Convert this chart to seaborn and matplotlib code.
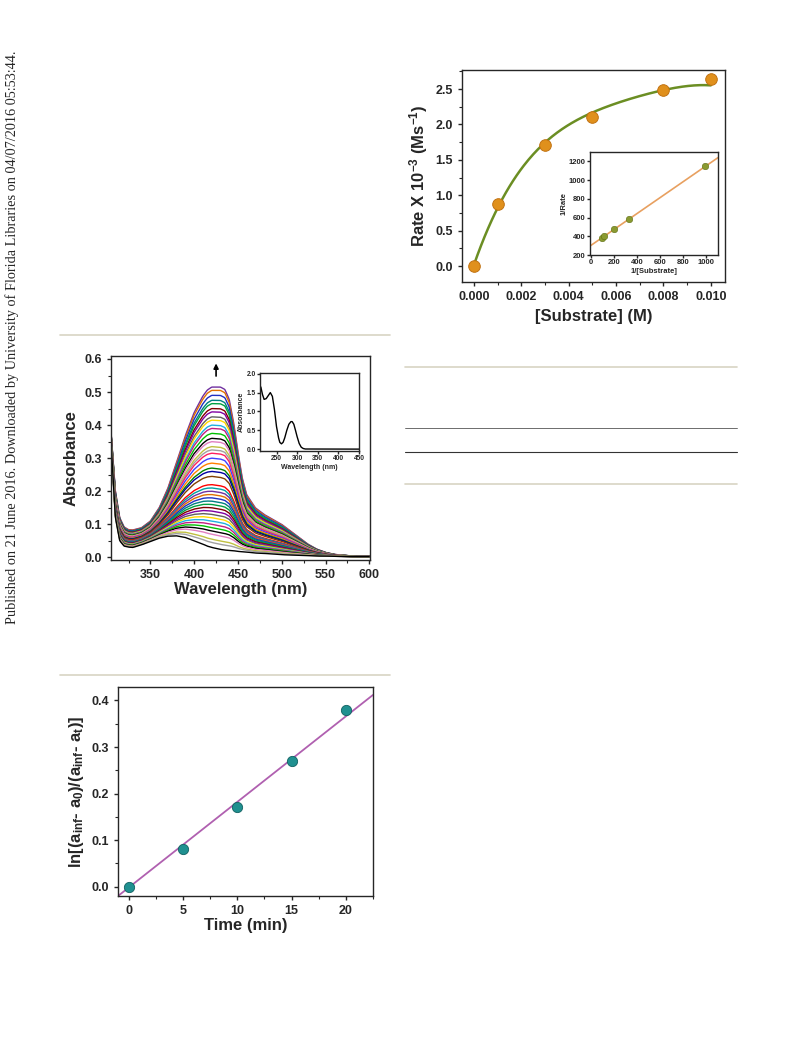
import numpy as np
import matplotlib
matplotlib.use("Agg")
import matplotlib.pyplot as plt
import seaborn as sns
import pandas as pd

sns.set_style("ticks")
plt.rcParams['font.family'] = ['Liberation Sans', 'DejaVu Sans']
plt.rcParams['font.weight'] = 'bold'
plt.rcParams['mathtext.fontset'] = 'custom'
plt.rcParams['mathtext.rm'] = 'Liberation Sans:bold'
plt.rcParams['mathtext.it'] = 'Liberation Sans:bold'
plt.rcParams['mathtext.bf'] = 'Liberation Sans:bold'
plt.rcParams['mathtext.default'] = 'bf'
plt.rcParams['xtick.direction'] = 'out'
plt.rcParams['ytick.direction'] = 'out'

# ---- Top chart data (rate vs substrate)
substrate = [0.0, 0.001, 0.003, 0.005, 0.008, 0.010]
rate = [0.0, 0.87, 1.71, 2.10, 2.49, 2.64]
fit_x = [0, 0.001, 0.002, 0.003, 0.004, 0.005, 0.006, 0.007, 0.008, 0.009, 0.010]
fit_y = [0.0, 0.85, 1.36, 1.73, 1.99, 2.17, 2.31, 2.41, 2.48, 2.53, 2.56]
inv_sub = [100, 120, 200, 330, 990]
inv_rate = [385, 400, 480, 585, 1155]
lb_line_x = [0, 1100]
lb_line_y = [300, 1240]

# ---- Middle chart data (spectra)
wl_pts = [305, 310, 315, 320, 325, 330, 340, 350, 360, 370, 380, 390, 400, 410, 415, 420,
          430, 435, 440, 445, 450, 455, 460, 470, 480, 490, 500, 510, 520, 530, 540, 550, 560, 580, 600]
low_curve = [0.35, 0.12, 0.05, 0.034, 0.031, 0.030, 0.038, 0.048, 0.058, 0.064, 0.065, 0.060, 0.050,
             0.040, 0.034, 0.030, 0.024, 0.022, 0.021, 0.020, 0.018, 0.017, 0.016, 0.013, 0.012, 0.010,
             0.008, 0.007, 0.006, 0.005, 0.004, 0.004, 0.003, 0.002, 0.002]
high_curve = [0.38, 0.20, 0.12, 0.092, 0.084, 0.083, 0.090, 0.110, 0.150, 0.210, 0.290, 0.370, 0.440,
              0.490, 0.508, 0.517, 0.517, 0.510, 0.480, 0.410, 0.320, 0.240, 0.190, 0.150, 0.130,
              0.115, 0.100, 0.080, 0.060, 0.040, 0.025, 0.015, 0.009, 0.004, 0.003]
peak_heights = [0.515, 0.505, 0.49, 0.475, 0.465, 0.45, 0.44, 0.425, 0.415, 0.40, 0.39, 0.375, 0.36,
                0.35, 0.335, 0.325, 0.315, 0.30, 0.285, 0.27, 0.26, 0.245, 0.22, 0.21, 0.20, 0.19,
                0.18, 0.17, 0.16, 0.15, 0.14, 0.13, 0.12, 0.11, 0.10, 0.09, 0.08, 0.07, 0.055, 0.045, 0.03]
inset_wl = [212, 216, 220, 225, 230, 235, 240, 245, 250, 255, 258, 262, 266, 270, 275, 280, 285, 288,
            292, 296, 300, 305, 310, 315, 320, 450]
inset_abs = [1.65, 1.45, 1.32, 1.34, 1.42, 1.50, 1.40, 1.05, 0.60, 0.30, 0.18, 0.14, 0.18, 0.30, 0.50,
             0.66, 0.73, 0.73, 0.66, 0.50, 0.33, 0.15, 0.05, 0.015, 0.003, 0.0]

# ---- Bottom chart data
time_min = [0, 5, 10, 15, 20]
lnval = [0.0, 0.082, 0.171, 0.270, 0.379]
fitline_x = [-1.0, 22.5]
fitline_y = [-0.02, 0.412]

fig = plt.figure(figsize=(7.93, 10.39), dpi=100)
W, H = 793, 1039
def ax_px(x0, y0, x1, y1):
    return fig.add_axes([x0 / W, 1 - y1 / H, (x1 - x0) / W, (y1 - y0) / H])

def style(ax, fs=9):
    for s in ax.spines.values():
        s.set_linewidth(1.0)
        s.set_visible(True)
    ax.tick_params(labelsize=fs, width=1, length=3)
    for lab in ax.get_xticklabels() + ax.get_yticklabels():
        lab.set_fontweight('bold')

# decorations
fig.text(12 / W, 1 - 337 / H, "Published on 21 June 2016. Downloaded by University of Florida Libraries on 04/07/2016 05:53:44.",
         rotation=90, ha='center', va='center', fontsize=10.3, family='Liberation Serif', fontweight='normal')
for (x0, x1, y, c, lw) in [(60, 390, 335, '#d8d4c4', 1.2), (60, 390, 675, '#d8d4c4', 1.2),
                            (405, 737, 367, '#d8d4c4', 1.2), (405, 737, 428, '#555555', 0.6),
                            (405, 737, 452, '#333333', 0.8), (405, 737, 484, '#d8d4c4', 1.2)]:
    fig.add_artist(plt.Line2D([x0 / W, x1 / W], [1 - y / H, 1 - y / H], color=c, lw=lw))

# ---- Top chart
ax1 = ax_px(462, 70, 725, 282)
cf = np.polyfit(fit_x, fit_y, 4)
xs = np.linspace(0, 0.010, 200)
sns.lineplot(x=xs, y=np.polyval(cf, xs), ax=ax1, color='#6b8e23', lw=1.8)
sns.scatterplot(x=substrate, y=rate, ax=ax1, color='#e0901c', s=70, edgecolor='#c07010', zorder=5)
ax1.set_xlim(-0.0005, 0.0106)
ax1.set_ylim(-0.226, 2.77)
ax1.set_xticks([0, 0.002, 0.004, 0.006, 0.008, 0.010])
ax1.set_xticklabels(['0.000', '0.002', '0.004', '0.006', '0.008', '0.010'])
ax1.set_yticks([0, 0.5, 1.0, 1.5, 2.0, 2.5])
ax1.set_xticks(np.arange(0.001, 0.0101, 0.002), minor=True)
ax1.set_yticks(np.arange(0.25, 2.76, 0.5), minor=True)
ax1.set_xlabel('[Substrate] (M)', fontsize=12, fontweight='bold')
ax1.set_ylabel('Rate X 10$^{-3}$ (Ms$^{-1}$)', fontsize=12, fontweight='bold')
style(ax1)

ax1i = ax_px(590, 152, 718, 255)
sns.lineplot(x=lb_line_x, y=lb_line_y, ax=ax1i, color='#e8a060', lw=1.2)
sns.scatterplot(x=inv_sub, y=inv_rate, ax=ax1i, color='#8a9a30', s=22, edgecolor='#5a6a10', zorder=5)
ax1i.set_xlim(-5, 1100)
ax1i.set_ylim(200, 1300)
ax1i.set_xticks([0, 200, 400, 600, 800, 1000])
ax1i.set_yticks([200, 400, 600, 800, 1000, 1200])
ax1i.set_xlabel('1/[Substrate]', fontsize=5.5, fontweight='bold', labelpad=1)
ax1i.set_ylabel('1/Rate', fontsize=5.5, fontweight='bold', labelpad=1)
style(ax1i, fs=5.5)
ax1i.tick_params(length=2, pad=1)

# ---- Middle chart
ax2 = ax_px(111, 356, 370, 560)
wl = np.linspace(305, 600, 300)
lo = np.interp(wl, wl_pts, low_curve)
hi = np.interp(wl, wl_pts, high_curve)
lo420 = np.interp(420, wl_pts, low_curve)
hi420 = np.interp(420, wl_pts, high_curve)
palette = ['#7030a0', '#e07000', '#2030c0', '#008080', '#00a040', '#800000', '#8000a0', '#606060',
           '#ffd700', '#20b0e0', '#c02080', '#00c000', '#000000', '#e080c0', '#c0c040', '#a0a0a0',
           '#ff2060', '#4040ff', '#ff8000', '#008000', '#0000a0', '#804000', '#ff0000', '#00a0a0']
rows = []
for i, p in enumerate(peak_heights):
    f = (p - lo420) / (hi420 - lo420)
    f = max(f, 0.0)
    y = lo + f * (hi - lo)
    rows.append(pd.DataFrame({'wl': wl, 'abs': y, 'curve': i}))
df = pd.concat(rows)
n = len(peak_heights)
cols = [palette[i % len(palette)] for i in range(n)]
cols[-1] = '#000000'
cols[0] = '#7030a0'
sns.lineplot(data=df, x='wl', y='abs', hue='curve', palette=cols, ax=ax2, lw=1.0, legend=False)
ax2.annotate('', xy=(425, 0.595), xytext=(425, 0.54),
             arrowprops=dict(arrowstyle='-|>', color='black', lw=1.2, mutation_scale=7))
ax2.set_xlim(305, 600.8)
ax2.set_ylim(-0.008, 0.609)
ax2.set_xticks([350, 400, 450, 500, 550, 600])
ax2.set_xticks([325, 375, 425, 475, 525, 575], minor=True)
ax2.set_yticks([0, 0.1, 0.2, 0.3, 0.4, 0.5, 0.6])
ax2.set_yticks(np.arange(0.05, 0.6, 0.1), minor=True)
ax2.set_xlabel('Wavelength (nm)', fontsize=12, fontweight='bold', labelpad=1)
ax2.set_ylabel('Absorbance', fontsize=12, fontweight='bold')
style(ax2)

ax2i = ax_px(260, 373, 359, 451)
sns.lineplot(x=inset_wl, y=inset_abs, ax=ax2i, color='black', lw=1.0)
ax2i.set_xlim(210, 450)
ax2i.set_ylim(-0.05, 2.02)
ax2i.set_xticks([250, 300, 350, 400, 450])
ax2i.set_yticks([0, 0.5, 1.0, 1.5, 2.0])
ax2i.set_xlabel('Wavelength (nm)', fontsize=5, fontweight='bold', labelpad=1)
ax2i.set_ylabel('Absorbance', fontsize=5, fontweight='bold', labelpad=1)
style(ax2i, fs=4.8)
ax2i.tick_params(length=2, pad=1)

# ---- Bottom chart
ax3 = ax_px(118, 687, 373, 896)
sns.lineplot(x=fitline_x, y=fitline_y, ax=ax3, color='#b060b0', lw=1.3)
sns.scatterplot(x=time_min, y=lnval, ax=ax3, color='#209090', s=55, edgecolor='#106060', zorder=5)
ax3.set_xlim(-1.0, 22.5)
ax3.set_ylim(-0.02, 0.429)
ax3.set_xticks([0, 5, 10, 15, 20])
ax3.set_xticks([2.5, 7.5, 12.5, 17.5, 22.5], minor=True)
ax3.set_yticks([0, 0.1, 0.2, 0.3, 0.4])
ax3.set_yticks([0.05, 0.15, 0.25, 0.35], minor=True)
ax3.set_xlabel('Time (min)', fontsize=12, fontweight='bold', labelpad=1)
ax3.set_ylabel('ln[(a$_{inf}$- a$_0$)/(a$_{inf}$- a$_t$)]', fontsize=12, fontweight='bold')
style(ax3)

for a in [ax1, ax1i, ax2, ax2i, ax3]:
    a.tick_params(which='minor', length=2, width=0.8)

fig.savefig('out.png', dpi=100)
